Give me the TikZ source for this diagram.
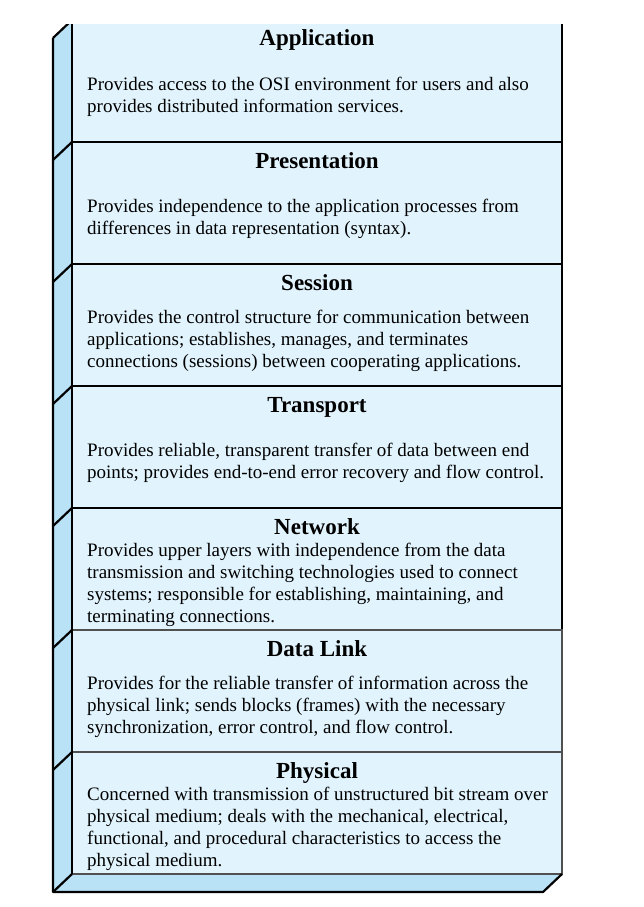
\documentclass[tikz,border=0pt]{standalone}
\usepackage{fontspec}
\setmainfont{Liberation Serif}
\definecolor{frontblue}{RGB}{225,243,252}
\definecolor{sideblue}{RGB}{185,226,247}
\definecolor{lowedge}{RGB}{80,80,80}
\begin{document}
\begin{tikzpicture}[x=1pt,y=-1pt,
    layerbox/.style={rectangle,fill=frontblue,line width=2.7pt,outer sep=0pt,
        minimum width=490pt,minimum height=122pt,anchor=north west},
    titletext/.style={font=\fontsize{23}{27}\selectfont\bfseries,inner sep=0pt,anchor=base},
    desctext/.style={font=\fontsize{19}{21.8}\selectfont,align=left,inner sep=0pt,anchor=west},
    sideline/.style={line width=2.2pt,line join=round}]
    \useasboundingbox (0,0) rectangle (643,907);
    \begin{scope}
        \clip (0,25) rectangle (643,907);
        % side and bottom faces
        \fill[sideblue] (72,20) -- (72,874) -- (53,892) -- (53,38) -- cycle;
        \fill[sideblue] (72,874) -- (562,874) -- (543,892) -- (53,892) -- cycle;

        \foreach \i/\name/\desc/\edge in {
            0/Application/{Provides access to the OSI environment for users and also\\provides distributed information services.}/black,
            1/Presentation/{Provides independence to the application processes from\\differences in data representation (syntax).}/black,
            2/Session/{Provides the control structure for communication between\\applications; establishes, manages, and terminates\\connections (sessions) between cooperating applications.}/black,
            3/Transport/{Provides reliable, transparent transfer of data between end\\points; provides end-to-end error recovery and flow control.}/black,
            4/Network/{Provides upper layers with independence from the data\\transmission and switching technologies used to connect\\systems; responsible for establishing, maintaining, and\\terminating connections.}/black,
            5/Data Link/{Provides for the reliable transfer of information across the\\physical link; sends blocks (frames) with the necessary\\synchronization, error control, and flow control.}/lowedge,
            6/Physical/{Concerned with transmission of unstructured bit stream over\\physical medium; deals with the mechanical, electrical,\\functional, and procedural characteristics to access the\\physical medium.}/lowedge}{
            \pgfmathsetmacro{\y}{20+122*\i}
            \node [layerbox,draw=\edge] (layer\i) at (72,\y) {};
            \node [titletext] (title\i) at (317,\y+26) {\name};
            \node [desctext] (desc\i) at (87,\y+77) {\desc};
            \draw [sideline] (layer\i.north west) -- ++(-19,18);
        }

        % outline of the side and bottom faces
        \draw [sideline] (53,38) -- (53,892) -- (543,892) -- (562,874);
        \draw [sideline] (layer6.south west) -- ++(-19,18);
        \draw [sideline] (72,20) -- (72,874);
    \end{scope}
\end{tikzpicture}
\end{document}
